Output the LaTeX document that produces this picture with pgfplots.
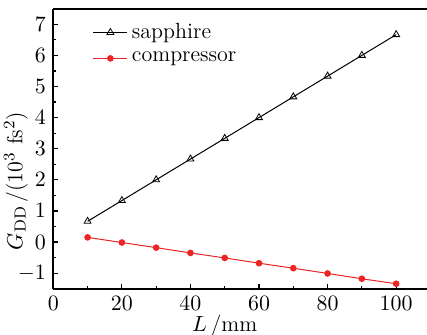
\documentclass[border=0pt]{standalone}
\usepackage{pgfplots}
\pgfplotsset{compat=1.18}
\definecolor{cred}{RGB}{236,36,36}
\begin{document}
\begin{tikzpicture}
\useasboundingbox (-26.65pt,-22.65pt) rectangle (186.85pt,144.35pt);
\begin{axis}[
  at={(0,0)}, anchor=south west,
  scale only axis,
  width=186.85pt, height=140pt,
  xmin=0, xmax=109, ymin=-1.5, ymax=7.5,
  axis x line*=box, axis y line*=left,
  xtick pos=bottom, ytick pos=left,
  xtick={0,20,...,100}, ytick={-1,0,...,7},
  minor xtick={10,30,...,90}, minor ytick={-1.5,-0.5,...,7.5},
  tick align=inside,
  major tick length=2.5pt, minor tick length=1.5pt,
  every axis/.append style={line width=0.8pt},
  tick style={line width=0.6pt, black},
  tick label style={font=\fontsize{10.5}{12}\selectfont},
  label style={font=\fontsize{11}{13}\selectfont},
  xlabel={$L$\,/mm},
  ylabel={$G_{\mathrm{DD}}$\,/(10$^3$ fs$^2$)},
  xlabel style={at={(axis description cs:0.4587,0)}, anchor=center, yshift=-18.6pt},
  ylabel style={at={(axis description cs:-0.1,0.385)}, anchor=center},
  legend style={draw=none, fill=none, inner sep=0pt, at={(0.1036,0.955)}, anchor=north west, font=\fontsize{11}{13}\selectfont, row sep=4pt, nodes={inner ysep=0.6pt, inner xsep=2pt}},
  legend cell align=left,
]
\addplot[black, line width=0.5pt, mark=triangle, mark size=2pt, mark options={fill=white, line width=0.4pt}]
 coordinates {(10,0.667)(20,1.333)(30,2.0)(40,2.667)(50,3.333)(60,4.0)(70,4.667)(80,5.333)(90,6.0)(100,6.667)};
\addlegendentry{sapphire}
\addplot[cred, line width=0.5pt, mark=*, mark size=1.4pt]
 coordinates {(10,0.15)(20,-0.015)(30,-0.18)(40,-0.35)(50,-0.51)(60,-0.68)(70,-0.84)(80,-1.01)(90,-1.18)(100,-1.34)};
\addlegendentry{compressor}
\end{axis}
\end{tikzpicture}
\end{document}
